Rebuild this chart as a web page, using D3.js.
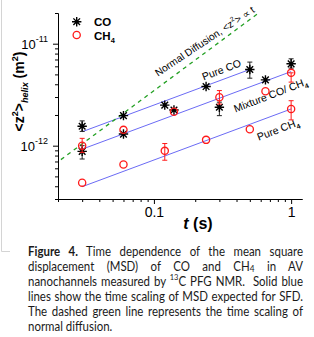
<!DOCTYPE html>
<html>
<head>
<meta charset="utf-8">
<script src="https://cdn.jsdelivr.net/npm/d3@7"></script>
<style>
body { margin: 0; background: #fff; }
svg { display: block; }
</style>
</head>
<body>
<script>
// axis ranges and ticks
let xDomain = [0.02, 1.2]
let yDomain = [3e-13, 2e-11]
let xMajor = [0.1, 1]
let xMajorLabels = ["0.1", "1"]
let xMinor = [0.02, 0.03, 0.04, 0.05, 0.06, 0.07, 0.08, 0.09, 0.2, 0.3, 0.4, 0.5, 0.6, 0.7, 0.8, 0.9]
let yMajor = [1e-12, 1e-11]
let yMajorExp = ["-12", "-11"]
let yMinor = [3e-13, 4e-13, 5e-13, 6e-13, 7e-13, 8e-13, 9e-13,
    2e-12, 3e-12, 4e-12, 5e-12, 6e-12, 7e-12, 8e-12, 9e-12, 2e-11]

// measured MSD (m^2) vs t (s); null = no error bar
let pureCO_t = [0.03, 0.06, 0.12, 0.24, 0.5]
let pureCO_v = [1.55e-12, 1.97e-12, 2.5e-12, 3.8e-12, 5.58e-12]
let pureCO_lo = [1.38e-12, null, null, null, 4.59e-12]
let pureCO_hi = [1.75e-12, null, null, null, 6.6e-12]

let mixCO_t = [0.03, 0.06, 0.14, 0.3, 0.65, 1.0]
let mixCO_v = [8.8e-13, 1.3e-12, 2.24e-12, 2.38e-12, 4.42e-12, 6.35e-12]
let mixCO_lo = [7.4e-13, null, null, 1.97e-12, null, 5.76e-12]
let mixCO_hi = [1.0e-12, null, null, 2.67e-12, null, 7.11e-12]

let mixCH4_t = [0.03, 0.06, 0.14, 0.3, 0.65, 1.0]
let mixCH4_v = [1.0e-12, 1.43e-12, 2.15e-12, 2.98e-12, 3.42e-12, 5.18e-12]
let mixCH4_lo = [8.6e-13, null, null, 2.56e-12, null, 4.2e-12]
let mixCH4_hi = [1.18e-12, null, null, 3.47e-12, null, 5.18e-12]

let pureCH4_t = [0.03, 0.06, 0.12, 0.24, 0.5, 1.0]
let pureCH4_v = [4.34e-13, 6.53e-13, 8.9e-13, 1.14e-12, 1.45e-12, 2.29e-12]
let pureCH4_lo = [null, null, 7.2e-13, null, null, 1.79e-12]
let pureCH4_hi = [null, null, 1.05e-12, null, null, 2.76e-12]

// SFD guide lines (blue) and normal diffusion line (green dashed): end points
let sfd_t = [[0.03, 0.5], [0.03, 1.0], [0.03, 1.0]]
let sfd_v = [[1.37e-12, 5.59e-12], [9.24e-13, 5.33e-12], [3.96e-13, 2.29e-12]]
let normal_t = [0.021, 0.58]
let normal_v = [7.3e-13, 2.0e-11]

let captionLines = [
    [["Figure 4.", "b"], [" Time dependence of the mean square", ""]],
    [["displacement (MSD) of CO and CH", ""], ["4", "small"], [" in AV", ""]],
    [["nanochannels measured by ", ""], ["13", "sup"], ["C PFG NMR.  Solid blue", ""]],
    [["lines show the time scaling of MSD expected for SFD.", ""]],
    [["The dashed green line represents the time scaling of", ""]],
    [["normal diffusion.", ""]]
]

let W = 314, H = 337
let mLeft = 58, mRight = 302, mTop = 13, mBottom = 199
let blue = "#6b6bf5", green = "#23a023", red = "#ff1a1a"

var svg = d3.select("body").append("svg")
    .attr("width", W).attr("height", H)
    .style("font-family", "'Liberation Sans', Arial, sans-serif")

var x = d3.scaleLog().domain(xDomain).range([mLeft, mRight])
var y = d3.scaleLog().domain(yDomain).range([mBottom, mTop])

// faint frame line on the left edge
svg.append("path").attr("d", "M1.5,0V251.5H10").attr("fill", "none").attr("stroke", "#d4d4d4")

// axes
svg.append("g").attr("transform", "translate(0," + mBottom + ")")
    .call(d3.axisBottom(x).tickValues(xMinor).tickSize(3).tickSizeOuter(0).tickFormat(""))
var gx = svg.append("g").attr("transform", "translate(0," + mBottom + ")")
    .call(d3.axisBottom(x).tickValues(xMajor).tickSize(5).tickSizeOuter(0).tickPadding(3)
        .tickFormat((d, i) => xMajorLabels[i]))
gx.selectAll("text").attr("font-size", 14).attr("font-family", "'Liberation Sans', Arial, sans-serif")

svg.append("g").attr("transform", "translate(" + mLeft + ",0)")
    .call(d3.axisLeft(y).tickValues(yMinor).tickSize(3).tickSizeOuter(0).tickFormat(""))
var gy = svg.append("g").attr("transform", "translate(" + mLeft + ",0)")
    .call(d3.axisLeft(y).tickValues(yMajor).tickSize(5).tickSizeOuter(0).tickFormat(""))
svg.selectAll(".domain").attr("stroke", "#000")

yMajor.forEach(function(d, i) {
    var t = svg.append("text").attr("x", 48).attr("y", y(d) + 5)
        .attr("text-anchor", "end").attr("font-size", 13)
    t.append("tspan").text("10")
    t.append("tspan").attr("font-size", 9).attr("dy", -7).text(yMajorExp[i])
})

// small helper for rich text: segs = [text, kind]
function rich(sel, segs, base) {
    var shift = 0
    segs.forEach(function(s) {
        var ts = sel.append("tspan").text(s[0])
        var want = 0
        if (s[1].includes("sup")) { ts.attr("font-size", base * 0.65); want = -base * 0.45 }
        if (s[1].includes("sub")) { ts.attr("font-size", base * 0.65); want = base * 0.3 }
        if (s[1].includes("small")) { ts.attr("font-size", base * 0.72); want = base * 0.05 }
        if (s[1].includes("i")) ts.attr("font-style", "italic")
        if (s[1].includes("b")) ts.attr("font-weight", "bold")
        ts.attr("dy", want - shift)
        shift = want
    })
}

// axis titles
var yl = svg.append("text").attr("transform", "translate(24,91.5) rotate(-90)")
    .attr("text-anchor", "middle").attr("font-size", 14).attr("font-weight", "bold")
rich(yl, [["<z", ""], ["2", "sup"], [">", ""], ["helix", "sub i"], [" (m", ""], ["2", "sup"], [")", ""]], 14)

var xl = svg.append("text").attr("x", 198).attr("y", 229)
    .attr("text-anchor", "middle").attr("font-size", 16).attr("font-weight", "bold")
rich(xl, [["t", "i"], [" (s)", ""]], 16)

// guide lines
var line = d3.line().x(d => x(d[0])).y(d => y(d[1]))
sfd_t.forEach(function(ts, k) {
    svg.append("path").attr("d", line(d3.zip(ts, sfd_v[k])))
        .attr("fill", "none").attr("stroke", blue).attr("stroke-width", 1)
})
svg.append("path").attr("d", line(d3.zip(normal_t, normal_v)))
    .attr("fill", "none").attr("stroke", green).attr("stroke-width", 1.3)
    .attr("stroke-dasharray", "4,4")

// annotations along the lines
let notes = [
    {segs: [["Normal Diffusion, <z", ""], ["2", "sup"], ["> \u221d t", ""]], t: 0.107, v: 4.75e-12, a: -33.7, fs: 10.2},
    {segs: [["Pure CO", ""]], t: 0.231, v: 4.35e-12, a: -21, fs: 10.5},
    {segs: [["Mixture CO/ CH", ""], ["4", "sub"]], t: 0.393, v: 2.12e-12, a: -21, fs: 10.5},
    {segs: [["Pure CH", ""], ["4", "sub"]], t: 0.58, v: 1.115e-12, a: -21, fs: 10.5}
]
notes.forEach(function(n) {
    var t = svg.append("text").attr("font-size", n.fs)
        .attr("transform", "translate(" + x(n.t) + "," + y(n.v) + ") rotate(" + n.a + ")")
    rich(t, n.segs, n.fs)
})

// data
let series = [
    {t: pureCO_t, v: pureCO_v, lo: pureCO_lo, hi: pureCO_hi, m: "star"},
    {t: mixCO_t, v: mixCO_v, lo: mixCO_lo, hi: mixCO_hi, m: "star"},
    {t: mixCH4_t, v: mixCH4_v, lo: mixCH4_lo, hi: mixCH4_hi, m: "circle"},
    {t: pureCH4_t, v: pureCH4_v, lo: pureCH4_lo, hi: pureCH4_hi, m: "circle"}
]

function starPath(r) {
    var a = r * 0.7071
    return "M" + -r + ",0H" + r + "M0," + -r + "V" + r +
        "M" + -a + "," + -a + "L" + a + "," + a + "M" + -a + "," + a + "L" + a + "," + -a
}

series.forEach(function(s) {
    var col = s.m == "star" ? "#222" : red
    var pts = s.t.map((t, i) => ({t: t, v: s.v[i], lo: s.lo[i], hi: s.hi[i]}))
    var eb = pts.filter(p => p.lo != null)
    var g = svg.append("g").attr("stroke", col).attr("stroke-width", 1).attr("fill", "none")
    g.selectAll("path").data(eb).enter().append("path")
        .attr("d", p => "M" + x(p.t) + "," + y(p.hi) + "V" + y(p.lo) +
            "M" + (x(p.t) - 2.5) + "," + y(p.hi) + "h5" +
            "M" + (x(p.t) - 2.5) + "," + y(p.lo) + "h5")
    var mk = svg.append("g")
    if (s.m == "star") {
        mk.selectAll("path").data(pts).enter().append("path")
            .attr("transform", p => "translate(" + x(p.t) + "," + y(p.v) + ")")
            .attr("d", starPath(4.7)).attr("stroke", "#000").attr("stroke-width", 1.4)
        mk.selectAll("circle").data(pts).enter().append("circle")
            .attr("cx", p => x(p.t)).attr("cy", p => y(p.v)).attr("r", 1.8).attr("fill", "#000")
    } else {
        mk.selectAll("circle").data(pts).enter().append("circle")
            .attr("cx", p => x(p.t)).attr("cy", p => y(p.v)).attr("r", 3.6)
            .attr("fill", "none").attr("stroke", red).attr("stroke-width", 1.3)
    }
})

// legend
var lg = svg.append("g")
lg.append("path").attr("transform", "translate(76.7,21.7)").attr("d", starPath(4.7))
    .attr("stroke", "#000").attr("stroke-width", 1.4)
lg.append("circle").attr("cx", 76.7).attr("cy", 21.7).attr("r", 1.8).attr("fill", "#000")
lg.append("circle").attr("cx", 76.7).attr("cy", 35).attr("r", 3.6)
    .attr("fill", "none").attr("stroke", red).attr("stroke-width", 1.3)
var l1 = lg.append("text").attr("x", 94).attr("y", 26).attr("font-size", 11.5).attr("font-weight", "bold")
rich(l1, [["CO", ""]], 11.5)
var l2 = lg.append("text").attr("x", 94).attr("y", 39.5).attr("font-size", 11.5).attr("font-weight", "bold")
rich(l2, [["CH", ""], ["4", "sub"]], 11.5)

// caption, justified between 28 and 303; squeezed sideways to mimic a narrow font
var capW = 275
var cap = svg.append("g").style("font-family", "Lato, 'Open Sans', sans-serif")
var capTexts = captionLines.map(function(segs, i) {
    var t = cap.append("text").attr("x", 0).attr("y", 256 + i * 15)
        .attr("font-size", 13).style("white-space", "pre").attr("fill", "#1a1a1a")
    rich(t, segs, 13)
    return t
})
var widest = d3.max(capTexts.slice(0, 5), t => t.node().getComputedTextLength())
var sx = Math.min(1, (capW - 6) / widest)
cap.attr("transform", "translate(28,0) scale(" + sx + ",1)")
capTexts.forEach(function(t, i) {
    if (i == captionLines.length - 1) return
    var w = t.node().getComputedTextLength()
    var n = captionLines[i].map(s => s[0]).join("").split(" ").length - 1
    t.style("word-spacing", ((capW / sx - w) / n) + "px")
})
</script>
</body>
</html>
